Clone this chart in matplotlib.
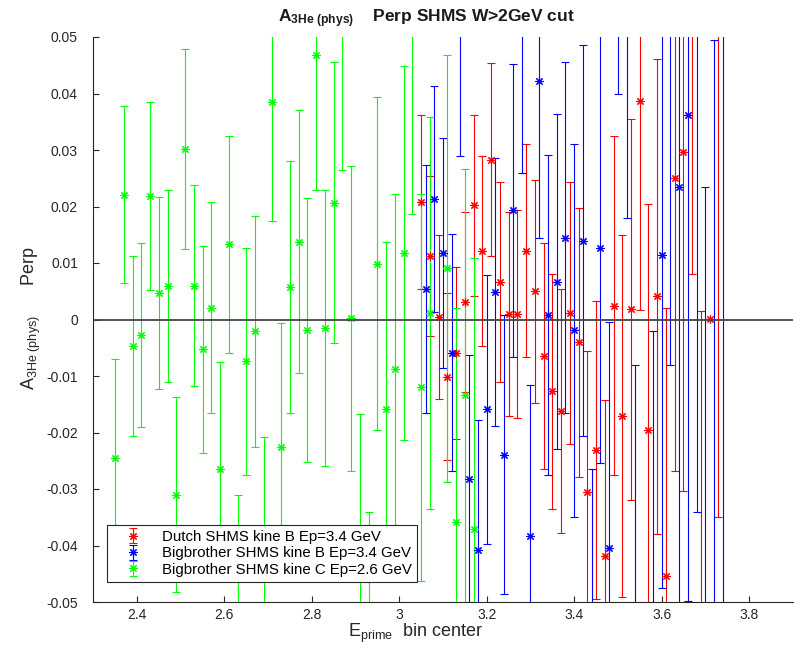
"""
A_3He (phys) Perp asymmetry vs E' bin center, SHMS W>2GeV cut
Three run sets: Dutch kine B, Bigbrother kine B, Bigbrother kine C
"""

import matplotlib
matplotlib.use('Agg')
import matplotlib.pyplot as plt

# ==================== fonts ====================

plt.rcParams['font.family'] = ['Liberation Sans', 'DejaVu Sans']
plt.rcParams['mathtext.fontset'] = 'custom'
plt.rcParams['mathtext.rm'] = 'Liberation Sans'
plt.rcParams['mathtext.bf'] = 'Liberation Sans:bold'
plt.rcParams['mathtext.it'] = 'Liberation Sans:italic'

# ==================== data ====================

# Dutch SHMS kine B Ep=3.4 GeV
dutch_x = [3.05, 3.07, 3.09, 3.11, 3.13, 3.15, 3.17, 3.19, 3.21, 3.23,
           3.25, 3.27, 3.29, 3.31, 3.33, 3.35, 3.37, 3.39, 3.41, 3.43,
           3.45, 3.47, 3.49, 3.51, 3.53, 3.55, 3.57, 3.59, 3.61, 3.63,
           3.65, 3.67, 3.69, 3.71, 3.73]
dutch_y = [0.0208, 0.0112, 0.0005, -0.0101, -0.0059, 0.0031, 0.0202, 0.0121, 0.0283, 0.0067,
           0.0010, 0.0009, 0.0122, 0.0050, -0.0065, -0.0127, -0.0162, 0.0012, -0.0040, -0.0305,
           -0.0231, -0.0418, 0.0024, -0.0171, 0.0018, 0.0386, -0.0196, 0.0041, -0.0454, 0.0251,
           0.0296, 0.0650, -0.0620, 0.0001, 0.0600]
dutch_err = [0.0154, 0.0142, 0.0145, 0.0148, 0.0152, 0.0160, 0.0160, 0.0168, 0.0171, 0.0177,
             0.0180, 0.0184, 0.0189, 0.0197, 0.0200, 0.0208, 0.0216, 0.0232, 0.0238, 0.0250,
             0.0263, 0.0275, 0.0300, 0.0320, 0.0337, 0.0370, 0.0400, 0.0420, 0.0475, 0.0520,
             0.0600, 0.0570, 0.0635, 0.0, 0.0950]

# Bigbrother SHMS kine B Ep=3.4 GeV
bbB_x = [3.06, 3.08, 3.10, 3.12, 3.14, 3.16, 3.18, 3.20, 3.22, 3.24,
         3.26, 3.28, 3.30, 3.32, 3.34, 3.36, 3.38, 3.40, 3.42, 3.44,
         3.46, 3.48, 3.50, 3.52, 3.54, 3.58, 3.60, 3.62, 3.64, 3.66,
         3.68, 3.70, 3.72, 3.74]
bbB_y = [0.0054, 0.0214, 0.0118, -0.0059, 0.0520, -0.0283, -0.0408, -0.0159, 0.0048, -0.0239,
         0.0193, 0.0540, -0.0384, 0.0422, 0.0008, 0.0067, 0.0145, -0.0019, 0.0139, -0.0580,
         0.0126, -0.0404, 0.0820, 0.0620, -0.0550, -0.0560, 0.0114, 0.0580, 0.0235, 0.0362,
         0.0580, -0.0750, -0.0700, 0.0800]
bbB_err = [0.0219, 0.0200, 0.0203, 0.0210, 0.0230, 0.0220, 0.0230, 0.0238, 0.0237, 0.0247,
           0.0260, 0.0280, 0.0268, 0.0277, 0.0284, 0.0297, 0.0310, 0.0330, 0.0346, 0.0315,
           0.0380, 0.0400, 0.0420, 0.0440, 0.0470, 0.0540, 0.0590, 0.0660, 0.0800, 0.0860,
           0.0920, 0.0985, 0.1195, 0.1500]

# Bigbrother SHMS kine C Ep=2.6 GeV
bbC_x = [2.35, 2.37, 2.39, 2.41, 2.43, 2.45, 2.47, 2.49, 2.51, 2.53,
         2.55, 2.57, 2.59, 2.61, 2.63, 2.65, 2.67, 2.69, 2.71, 2.73,
         2.75, 2.77, 2.79, 2.81, 2.83, 2.85, 2.87, 2.89, 2.91, 2.93,
         2.95, 2.97, 2.99, 3.01, 3.03, 3.05, 3.07, 3.11, 3.13, 3.15,
         3.17]
bbC_y = [-0.0245, 0.0221, -0.0047, -0.0028, 0.0219, 0.0047, 0.0059, -0.0310, 0.0302, 0.0060,
         -0.0053, 0.0021, -0.0264, 0.0133, -0.0505, -0.0074, -0.0021, -0.0415, 0.0385, -0.0225,
         0.0058, 0.0138, -0.0019, 0.0468, -0.0015, 0.0207, 0.0530, 0.0002, -0.0435, -0.0620,
         0.0099, -0.0159, -0.0088, 0.0118, 0.0530, -0.0120, 0.0011, 0.0091, -0.0359, -0.0133,
         -0.0370]
bbC_err = [0.0175, 0.0157, 0.0160, 0.0163, 0.0166, 0.0170, 0.0170, 0.0172, 0.0177, 0.0178,
           0.0183, 0.0187, 0.0188, 0.0192, 0.0195, 0.0201, 0.0205, 0.0207, 0.0210, 0.0219,
           0.0223, 0.0232, 0.0234, 0.0238, 0.0245, 0.0249, 0.0266, 0.0270, 0.0268, 0.0280,
           0.0294, 0.0297, 0.0310, 0.0331, 0.0343, 0.0342, 0.0347, 0.0378, 0.0380, 0.0400,
           0.0479]

labels = ['Dutch SHMS kine B Ep=3.4 GeV',
          'Bigbrother SHMS kine B Ep=3.4 GeV',
          'Bigbrother SHMS kine C Ep=2.6 GeV']
colors = ['#ff0000', '#0000ff', '#00ff00']

x_ticks = [2.4, 2.6, 2.8, 3.0, 3.2, 3.4, 3.6, 3.8]
x_ticklabels = ['2.4', '2.6', '2.8', '3', '3.2', '3.4', '3.6', '3.8']
y_ticks = [-0.05, -0.04, -0.03, -0.02, -0.01, 0.0, 0.01, 0.02, 0.03, 0.04, 0.05]
y_ticklabels = ['-0.05', '-0.04', '-0.03', '-0.02', '-0.01', '0',
                '0.01', '0.02', '0.03', '0.04', '0.05']

W, H = 806, 655

# ==================== plot ====================

fig = plt.figure(figsize=(W / 100, H / 100), dpi=100)
ax = fig.add_axes([93.25 / W, 53 / H, 699.5 / W, 565 / H])

series = [(dutch_x, dutch_y, dutch_err), (bbB_x, bbB_y, bbB_err), (bbC_x, bbC_y, bbC_err)]
for (xs, ys, es), c, lab in zip(series, colors, labels):
    ax.errorbar(xs, ys, yerr=es, linestyle='none', marker=(8, 2, 0), ms=6,
                mec=c, mew=0.8, color=c, ecolor=c, elinewidth=0.8,
                capsize=3, capthick=0.8, label=lab)

ax.axhline(0, color='#444444', lw=1.3, zorder=5)

ax.set_xlim(2.3, 3.9)
ax.set_ylim(-0.05, 0.05)
ax.set_xticks(x_ticks)
ax.set_xticklabels(x_ticklabels)
ax.set_yticks(y_ticks)
ax.set_yticklabels(y_ticklabels)
ax.tick_params(direction='in', length=4, width=0.8, colors='0.15', labelsize=10)
ax.tick_params(axis='y', pad=11)
ax.tick_params(axis='x', pad=4)
for s in ['top', 'right']:
    ax.spines[s].set_visible(False)
for s in ['left', 'bottom']:
    ax.spines[s].set_color('0.15')
    ax.spines[s].set_linewidth(0.8)

leg = ax.legend(loc='lower left', bbox_to_anchor=(0.0197, 0.0354), borderaxespad=0,
                fontsize=10.8, fancybox=False, framealpha=1, edgecolor='0.15',
                handlelength=2.7, handletextpad=0.6, labelspacing=0.15, borderpad=0.35)
leg.get_frame().set_linewidth(0.8)

# title and axis labels (placed by hand, like the Octave output)
fig.text(426 / W, 1 - 22 / H, r'$\mathbf{A_{3He\ (phys)}}$    Perp SHMS W>2GeV cut',
         ha='center', va='baseline', fontsize=12.5, fontweight='bold', color='0.1')
fig.text(415 / W, 1 - 637 / H, r'$\mathrm{E_{prime}}$  bin center',
         ha='center', va='baseline', fontsize=13, color='0.15')
fig.text(31 / W, 1 - 318 / H, r'$\mathrm{A_{3He\ (phys)}}$      Perp',
         ha='center', va='center', rotation=90, fontsize=13, color='0.15')

fig.savefig('out.png', dpi=100)
plt.close(fig)
